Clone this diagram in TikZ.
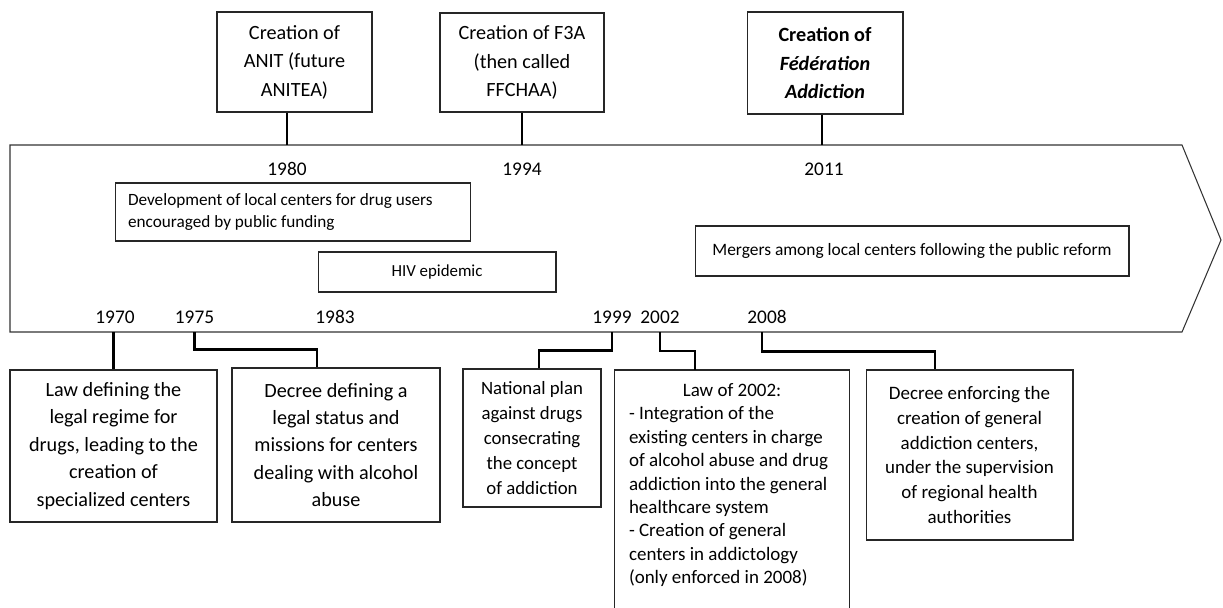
\documentclass[tikz,border=0pt]{standalone}
\usepackage{fontspec}
\setmainfont{Carlito}
\usetikzlibrary{calc}

\begin{document}
\begin{tikzpicture}[x=0.02cm,y=-0.02cm]
  \tikzstyle{box}=[draw=black!85,line width=0.6pt,inner sep=0pt,align=center]
  \tikzstyle{top box}=[box,font=\fontsize{11.5}{16.2}\selectfont]
  \tikzstyle{period}=[box,font=\fontsize{9.6}{12}\selectfont]
  \tikzstyle{low box}=[box,font=\fontsize{11.5}{15.6}\selectfont]
  \tikzstyle{small box}=[box,font=\fontsize{10.7}{14.2}\selectfont]
  \tikzstyle{year}=[font=\fontsize{11}{13}\selectfont,inner sep=0pt]
  \tikzstyle{stem}=[line width=1.2pt,black]
  \useasboundingbox (0,0) rectangle (1223,608);
  \clip (0,0) rectangle (1223,608);
  \draw[draw=black!80,line width=0.6pt] (10,145) -- (1182,145) -- (1221,240)
    -- (1182,332) -- (10,332) -- cycle;
  \coordinate (up) at (0,145);
  \coordinate (down) at (0,332);

  \node[top box,minimum width=3.1cm,minimum height=2cm] (t1) at (294.5,62)
    {Creation of\\ANIT (future\\ANITEA)};
  \node[top box,minimum width=3.28cm,minimum height=1.98cm] (t2) at (522,62.5)
    {Creation of F3A\\(then called\\FFCHAA)};
  \node[top box,minimum width=3.12cm,minimum height=2.04cm,
    font=\fontsize{11.5}{16.2}\selectfont\bfseries] (t3) at (825,63)
    {Creation of\\\textit{Fédération}\\\textit{Addiction}};

  \node[year] (y1980) at (287,169) {1980};
  \node[year] (y1994) at (522,169) {1994};
  \node[year] (y2011) at (824,169) {2011};
  \node[year] (y1970) at (115,317) {1970};
  \node[year] (y1975) at (194.5,317) {1975};
  \node[year] (y1983) at (335,317) {1983};
  \node[year] (y1999) at (612,317) {1999};
  \node[year] (y2002) at (660,317) {2002};
  \node[year] (y2008) at (767,317) {2008};

  \node[period,font=\fontsize{9.8}{12}\selectfont,text width=6.6cm,align=flush left,
    inner xsep=0.26cm,minimum height=1.16cm]
    (e1) at (293,212) {Development of local centers for drug users\\encouraged by public funding};
  \node[period,minimum width=4.76cm,minimum height=0.8cm] (e2) at (437,272) {HIV epidemic};
  \node[period,font=\fontsize{9.9}{12}\selectfont,minimum width=8.68cm,minimum height=1cm]
    (e3) at (912,251) {Mergers among local centers following the public reform};

  \node[low box,minimum width=4.14cm,minimum height=3.04cm] (b1) at (113.5,446)
    {Law defining the\\legal regime for\\drugs, leading to the\\creation of\\specialized centers};
  \node[low box,minimum width=4.16cm,minimum height=3.08cm] (b2) at (336,445)
    {Decree defining a\\legal status and\\missions for centers\\dealing with alcohol\\abuse};
  \node[small box,minimum width=2.76cm,minimum height=2.76cm] (b3) at (532,438)
    {National plan\\against drugs\\consecrating\\the concept\\of addiction};
  \node[box,draw=none,font=\fontsize{10.8}{13.3}\selectfont,text width=4.12cm,align=flush left,
    inner xsep=0.28cm,inner ysep=0.26cm,anchor=north] (b4) at (732,370)
    {\makebox[4.12cm][c]{Law of 2002:}\\- Integration of the\\existing centers in charge\\of alcohol abuse and drug\\addiction into the general\\healthcare system\\- Creation of general\\centers in addictology\\(only enforced in 2008)};
  \draw[draw=black!85,line width=0.6pt] (b4.north west) rectangle ($(b4.north east)+(0,260)$);
  \node[small box,font=\fontsize{10.8}{14.2}\selectfont,minimum width=4.14cm,minimum height=3.4cm]
    (b5) at (969.5,455)
    {Decree enforcing the\\creation of general\\addiction centers,\\under the supervision\\of regional health\\authorities};

  \draw[stem] (t1.south -| y1980) -- (y1980 |- up);
  \draw[stem] (t2.south -| y1994) -- (y1994 |- up);
  \draw[stem] ($(t3.south -| y2011)+(-2,0)$) -- ($(y2011 |- up)+(-2,0)$);
  \draw[stem] (b1.north |- down) -- (b1.north);
  \draw[stem] (y1975 |- down) |- ($(b2.north)+(-19,-18)$) -- ($(b2.north)+(-19,0)$);
  \draw[stem] (y1999 |- down) |- ($(b3.north)+(7,-18)$) -- ($(b3.north)+(7,0)$);
  \draw[stem] (y2002 |- down) |- ($(b4.north)+(-37,-19)$) -- ($(b4.north)+(-37,0)$);
  \draw[stem] ($(y2008 |- down)+(-5,0)$) |- ($(b5.north)+(-34.5,-18)$) -- ($(b5.north)+(-34.5,0)$);
\end{tikzpicture}
\end{document}
